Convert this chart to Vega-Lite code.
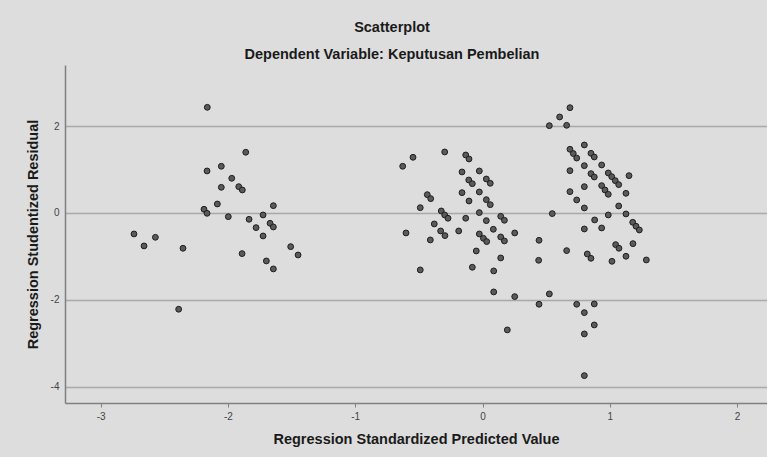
{
  "$schema": "https://vega.github.io/schema/vega-lite/v6.json",
  "width": 702,
  "height": 338,
  "autosize": {"type": "none"},
  "padding": {"left": 65, "top": 65, "right": 0, "bottom": 54},
  "background": "#dddddd",
  "title": {
    "text": "Scatterplot",
    "subtitle": "Dependent Variable: Keputusan Pembelian",
    "anchor": "middle",
    "dx": -24,
    "offset": 3,
    "font": "Liberation Sans",
    "fontSize": 14.5,
    "fontWeight": "bold",
    "color": "#1a1a1a",
    "subtitleFont": "Liberation Sans",
    "subtitleFontSize": 14.5,
    "subtitleFontWeight": "bold",
    "subtitleColor": "#1a1a1a",
    "subtitlePadding": 12
  },
  "config": {
    "view": {"stroke": null},
    "axis": {
      "labelFont": "Liberation Sans",
      "labelFontSize": 10,
      "labelColor": "#444444",
      "titleFont": "Liberation Sans",
      "titleFontSize": 14.5,
      "titleFontWeight": "bold",
      "titleColor": "#1a1a1a",
      "domainColor": "#808080",
      "domainWidth": 1.5
    }
  },
  "data": {
    "values": [
      {"x": -2.162, "y": 2.435}, {"x": -1.860, "y": 1.399}, {"x": -2.164, "y": 0.968}, {"x": -2.052, "y": 1.076},
      {"x": -1.970, "y": 0.799}, {"x": -2.052, "y": 0.591}, {"x": -1.915, "y": 0.606}, {"x": -1.887, "y": 0.530},
      {"x": -2.083, "y": 0.207}, {"x": -2.188, "y": 0.085}, {"x": -2.164, "y": -0.008}, {"x": -1.997, "y": -0.085},
      {"x": -1.643, "y": 0.168}, {"x": -1.834, "y": -0.146}, {"x": -1.724, "y": -0.046}, {"x": -1.669, "y": -0.238},
      {"x": -1.643, "y": -0.323}, {"x": -1.779, "y": -0.338}, {"x": -1.724, "y": -0.530}, {"x": -2.738, "y": -0.484},
      {"x": -2.570, "y": -0.561}, {"x": -2.659, "y": -0.760}, {"x": -2.353, "y": -0.814}, {"x": -1.507, "y": -0.776},
      {"x": -1.449, "y": -0.968}, {"x": -1.889, "y": -0.937}, {"x": -1.698, "y": -1.106}, {"x": -1.643, "y": -1.290},
      {"x": -2.387, "y": -2.219},
      {"x": -0.627, "y": 1.076}, {"x": -0.546, "y": 1.283}, {"x": -0.297, "y": 1.406}, {"x": -0.132, "y": 1.336},
      {"x": -0.106, "y": 1.244}, {"x": -0.161, "y": 0.945}, {"x": -0.025, "y": 0.968}, {"x": -0.108, "y": 0.760},
      {"x": -0.080, "y": 0.675}, {"x": 0.030, "y": 0.783}, {"x": 0.061, "y": 0.684}, {"x": -0.161, "y": 0.468},
      {"x": -0.025, "y": 0.484}, {"x": -0.434, "y": 0.422}, {"x": -0.407, "y": 0.330}, {"x": -0.106, "y": 0.276},
      {"x": 0.030, "y": 0.306}, {"x": 0.061, "y": 0.191}, {"x": -0.489, "y": 0.122}, {"x": -0.324, "y": 0.046},
      {"x": -0.297, "y": -0.046}, {"x": -0.271, "y": -0.122}, {"x": -0.132, "y": -0.122}, {"x": -0.025, "y": 0.008},
      {"x": 0.030, "y": -0.177}, {"x": 0.143, "y": -0.077}, {"x": 0.172, "y": -0.169}, {"x": 0.548, "y": -0.015},
      {"x": -0.379, "y": -0.253}, {"x": -0.601, "y": -0.461}, {"x": -0.329, "y": -0.415}, {"x": -0.295, "y": -0.522},
      {"x": -0.187, "y": -0.415}, {"x": -0.410, "y": -0.622}, {"x": 0.085, "y": -0.376}, {"x": -0.025, "y": -0.484},
      {"x": 0.007, "y": -0.584}, {"x": 0.033, "y": -0.660}, {"x": 0.143, "y": -0.553}, {"x": 0.172, "y": -0.645},
      {"x": 0.253, "y": -0.461}, {"x": 0.444, "y": -0.630}, {"x": 0.661, "y": -0.868}, {"x": -0.049, "y": -0.876},
      {"x": 0.143, "y": -1.037}, {"x": 0.441, "y": -1.091}, {"x": -0.489, "y": -1.313}, {"x": -0.080, "y": -1.252},
      {"x": 0.088, "y": -1.336}, {"x": 0.088, "y": -1.820}, {"x": 0.253, "y": -1.928}, {"x": 0.525, "y": -1.866},
      {"x": 0.444, "y": -2.104}, {"x": 0.195, "y": -2.696},
      {"x": 0.687, "y": 2.426}, {"x": 0.606, "y": 2.212}, {"x": 0.525, "y": 2.012}, {"x": 0.661, "y": 2.020},
      {"x": 0.687, "y": 1.468}, {"x": 0.713, "y": 1.370}, {"x": 0.740, "y": 1.265}, {"x": 0.800, "y": 1.567},
      {"x": 0.852, "y": 1.375}, {"x": 0.878, "y": 1.290}, {"x": 0.800, "y": 1.090}, {"x": 0.936, "y": 1.106},
      {"x": 0.687, "y": 0.975}, {"x": 0.852, "y": 0.906}, {"x": 0.878, "y": 0.829}, {"x": 0.988, "y": 0.922},
      {"x": 1.015, "y": 0.837}, {"x": 1.043, "y": 0.745}, {"x": 1.070, "y": 0.653}, {"x": 1.151, "y": 0.860},
      {"x": 0.800, "y": 0.606}, {"x": 0.936, "y": 0.630}, {"x": 0.962, "y": 0.530}, {"x": 0.988, "y": 0.430},
      {"x": 0.687, "y": 0.491}, {"x": 1.127, "y": 0.453}, {"x": 0.740, "y": 0.300}, {"x": 0.800, "y": 0.115},
      {"x": 1.070, "y": 0.161}, {"x": 0.988, "y": -0.046}, {"x": 1.127, "y": -0.023}, {"x": 0.881, "y": -0.161},
      {"x": 1.180, "y": -0.215}, {"x": 1.206, "y": -0.307}, {"x": 1.232, "y": -0.392}, {"x": 0.800, "y": -0.369},
      {"x": 0.936, "y": -0.346}, {"x": 0.823, "y": -0.945}, {"x": 0.852, "y": -1.045}, {"x": 1.046, "y": -0.730},
      {"x": 1.072, "y": -0.814}, {"x": 1.182, "y": -0.707}, {"x": 1.127, "y": -0.998}, {"x": 1.017, "y": -1.114},
      {"x": 1.287, "y": -1.083}, {"x": 0.740, "y": -2.104}, {"x": 0.878, "y": -2.097}, {"x": 0.800, "y": -2.297},
      {"x": 0.878, "y": -2.581}, {"x": 0.800, "y": -2.788}, {"x": 0.800, "y": -3.749}
    ]
  },
  "mark": {"type": "point", "shape": "circle", "filled": true, "size": 34, "fill": "#5a5a5a", "stroke": "#1e1e1e", "strokeWidth": 1, "opacity": 1},
  "encoding": {
    "x": {
      "field": "x", "type": "quantitative",
      "scale": {"domain": [-3.28, 2.235], "nice": false, "zero": false},
      "axis": {
        "title": "Regression Standardized Predicted Value",
        "values": [-3, -2, -1, 0, 1, 2],
        "labelExpr": "datum.value + ''",
        "grid": false,
        "tickSize": 4,
        "tickColor": "#808080",
        "labelPadding": 4,
        "titlePadding": 11
      }
    },
    "y": {
      "field": "y", "type": "quantitative",
      "scale": {"domain": [-4.38, 3.41], "nice": false, "zero": false},
      "axis": {
        "title": "Regression Studentized Residual",
        "values": [-4, -2, 0, 2],
        "labelExpr": "datum.value + ''",
        "grid": true,
        "gridColor": "#a9a9a9",
        "gridWidth": 1.5,
        "ticks": false,
        "labelPadding": 6,
        "titlePadding": 10
      }
    }
  }
}
